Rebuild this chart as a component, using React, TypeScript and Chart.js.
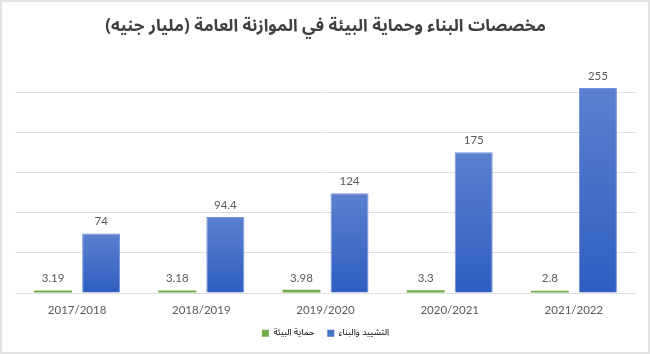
import React, { useEffect, useRef } from "react";
import { Chart, registerables } from "chart.js";

Chart.register(...registerables);

const categories = ["2017/2018", "2018/2019", "2019/2020", "2020/2021", "2021/2022"];
const environmentValues = [3.19, 3.18, 3.98, 3.3, 2.8];
const constructionValues = [74, 94.4, 124, 175, 255];
const environmentLabel = "حماية البيئة";
const constructionLabel = "التشييد والبناء";
const titleText = "مخصصات البناء وحماية البيئة في الموازنة العامة (مليار جنيه)";

const GREEN = "#70ad47";
const BLUE = "#4472c4";

const labelsPlugin = {
  id: "valueLabels",
  afterDatasetsDraw(chart: any) {
    const ctx = chart.ctx;
    ctx.save();
    ctx.font = "11.5px Lato, 'Open Sans', sans-serif";
    ctx.fillStyle = "#595959";
    ctx.textAlign = "center";
    ctx.textBaseline = "middle";
    chart.data.datasets.forEach((ds: any, i: number) => {
      const meta = chart.getDatasetMeta(i);
      meta.data.forEach((el: any, j: number) => {
        ctx.fillText(String(ds.data[j]), el.x, el.y - 12);
      });
    });
    ctx.restore();
  },
};

const borderPlugin = {
  id: "frame",
  afterDraw(chart: any) {
    const ctx = chart.ctx;
    ctx.save();
    ctx.strokeStyle = "#e3e3e3";
    ctx.lineWidth = 2;
    ctx.strokeRect(1, 1, chart.width - 2, chart.height - 2);
    ctx.restore();
  },
};

export default function App() {
  const ref = useRef<HTMLCanvasElement>(null);
  useEffect(() => {
    if (!ref.current) return;
    const chart = new Chart(ref.current, {
      type: "bar",
      data: {
        labels: categories,
        datasets: [
          {
            label: environmentLabel,
            data: environmentValues,
            backgroundColor: GREEN,
            categoryPercentage: 0.774,
            barPercentage: 0.79,
            clip: false as any,
          },
          {
            label: constructionLabel,
            data: constructionValues,
            backgroundColor: (c: any) => {
              const chart = c.chart;
              const y = chart.scales?.y;
              if (!y || c.type !== "data") return BLUE;
              const top = y.getPixelForValue(c.parsed?.y ?? c.raw);
              const bottom = y.getPixelForValue(0);
              if (!isFinite(top) || !isFinite(bottom) || top === bottom) return BLUE;
              const g = chart.ctx.createLinearGradient(0, top, 0, bottom);
              g.addColorStop(0, "#5b80cf");
              g.addColorStop(1, "#2f5ec0");
              return g;
            },
            borderColor: "#7394d8",
            borderWidth: 1,
            categoryPercentage: 0.774,
            barPercentage: 0.79,
            clip: false as any,
          },
        ],
      },
      options: {
        responsive: false,
        animation: false,
        layout: { padding: { left: 15, right: 14, top: 0, bottom: 6.25 } },
        scales: {
          x: {
            grid: { display: false, drawTicks: false },
            border: { display: false },
            afterFit: (scale: any) => {
              scale.height = 22.75;
            },
            ticks: {
              padding: 11.25,
              color: "#595959",
              font: { family: "Lato, 'Open Sans', sans-serif", size: 11.5, lineHeight: 1 },
            },
          },
          y: {
            min: 0,
            max: 250,
            ticks: { display: false, stepSize: 50 },
            grid: { color: "#e0e0e0", drawTicks: false },
            border: { display: false },
          },
        },
        plugins: {
          title: {
            display: true,
            text: titleText,
            color: "#404040",
            font: { family: "'Noto Sans Arabic', 'DejaVu Sans', sans-serif", size: 17, weight: "bold" },
            padding: { top: 18, bottom: 53.6 },
          },
          legend: {
            position: "bottom",
            labels: {
              boxWidth: 7,
              boxHeight: 7,
              padding: 13,
              color: "#595959",
              font: { family: "'Noto Sans Arabic', 'DejaVu Sans', sans-serif", size: 9 },
              generateLabels: () => [
                { text: environmentLabel, fillStyle: GREEN, strokeStyle: GREEN, lineWidth: 0, datasetIndex: 0, hidden: false },
                { text: constructionLabel, fillStyle: BLUE, strokeStyle: BLUE, lineWidth: 0, datasetIndex: 1, hidden: false },
              ] as any,
            },
          },
          tooltip: { enabled: false },
        },
      },
      plugins: [labelsPlugin, borderPlugin],
    });
    return () => chart.destroy();
  }, []);
  return (
    <div style={{ position: "absolute", left: 0, top: 0, background: "#fff" }}>
      <canvas ref={ref} width={650} height={354} />
    </div>
  );
}
